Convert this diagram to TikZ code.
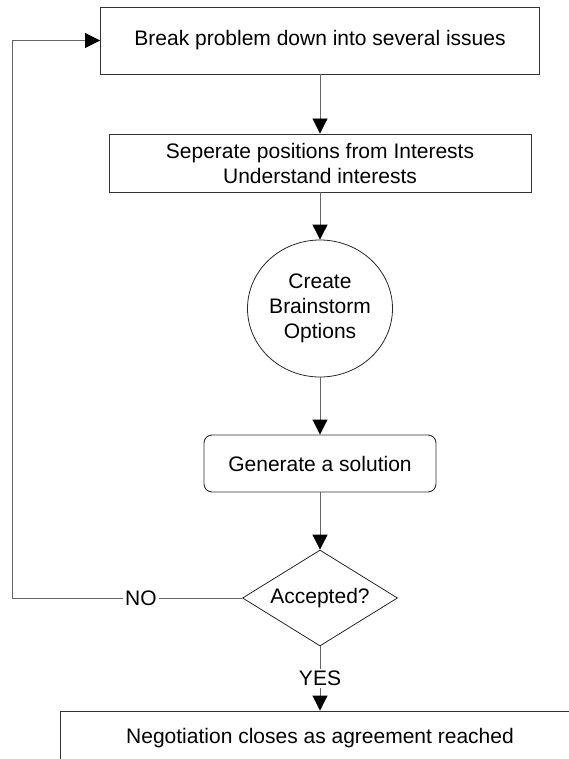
\documentclass[tikz,border=0pt]{standalone}
\usepackage{fontspec}
\setmainfont{Liberation Sans}
\usetikzlibrary{arrows.meta,shapes.geometric}

\begin{document}
\begin{tikzpicture}[x=1pt, y=-1pt, font=\fontsize{21}{25}\selectfont, inner sep=0pt,
  procbox/.style={draw=black!80, line width=0.9pt, rectangle, align=center},
  roundbox/.style={procbox, rounded corners=8pt, minimum width=232pt, minimum height=57pt},
  idea/.style={draw=black!85, line width=0.8pt, ellipse, align=center, minimum width=145pt, minimum height=137pt},
  decision/.style={draw=black!85, line width=0.8pt, diamond, aspect=1.6, minimum width=155pt, minimum height=96pt},
  flow/.style={draw=black!60, line width=0.9pt, -{Triangle[length=15pt,width=15pt,color=black]}},
  tag/.style={fill=white, inner sep=2pt}]
  \def\cx{320}
  \path[use as bounding box, clip] (0,0) rectangle (569,759);
  % process steps, top to bottom
  \node[procbox, minimum width=439pt, minimum height=67pt] (break) at (\cx,40.5) {Break problem down into several issues};
  \node[procbox, minimum width=422pt, minimum height=58pt] (separate) at (\cx,163) {Seperate positions from Interests\\Understand interests};
  \node[idea] (create) at (\cx,308.5) {Create\\Brainstorm\\Options};
  \node[roundbox] (generate) at (\cx,463.5) {Generate a solution};
  \node[decision] (accepted) at (\cx,598) {Accepted?};
  \node[procbox, minimum width=520pt, minimum height=54pt] (close) at (\cx,738) {Negotiation closes as agreement reached};
  \coordinate (loop) at (12,598);
  % connectors
  \draw[flow] (break) -- (separate);
  \draw[flow] (separate) -- (create);
  \draw[flow] (create) -- (generate);
  \draw[flow] (generate) -- (accepted);
  \draw[flow] (accepted) -- node[tag]{YES} (close);
  % back to the start
  \draw[flow] (accepted) -- node[tag, pos=0.44]{NO} (loop) |- (break);
\end{tikzpicture}
\end{document}
